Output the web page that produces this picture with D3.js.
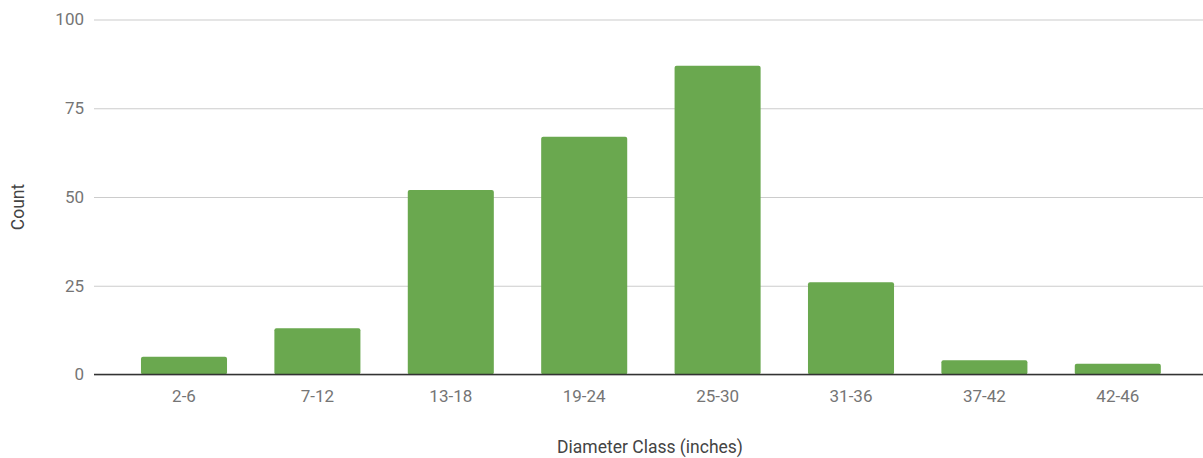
<!DOCTYPE html>
<html>
<head>
<meta charset="utf-8">
<script src="https://cdn.jsdelivr.net/npm/d3@7"></script>
<style>
  html, body { margin: 0; padding: 0; background: #fff; }
  svg { display: block; }
  text { font-family: Roboto, "Noto Sans", sans-serif; }
</style>
</head>
<body>
<svg id="chart" width="1203" height="458"></svg>
<script>
const categories = ["2-6", "7-12", "13-18", "19-24", "25-30", "31-36", "37-42", "42-46"];
const counts = [5, 13, 52, 67, 87, 26, 4, 3];
const yTicks = [0, 25, 50, 75, 100];
const xTitle = "Diameter Class (inches)";
const yTitle = "Count";

const svg = d3.select("#chart");
const plotLeft = 94, plotRight = 1203;
const yTop = 19.5, yBottom = 374.5;

const x = d3.scaleBand()
  .domain(categories)
  .range([117.3, 1184.5])
  .paddingInner(0.355)
  .paddingOuter(0.1775);

const y = d3.scaleLinear().domain([0, 100]).range([yBottom, yTop]);

// gridlines + y tick labels
const yAxis = d3.axisLeft(y).tickValues(yTicks).tickSize(-(plotRight - plotLeft)).tickPadding(10);
const gy = svg.append("g").attr("transform", `translate(${plotLeft},0)`).call(yAxis);
gy.select(".domain").remove();
gy.selectAll(".tick line").attr("stroke", "#cccccc").attr("stroke-width", 1.2);
gy.selectAll(".tick text")
  .attr("fill", "#757575")
  .style("font-size", "17px")
  .attr("x", -10);

// bars
svg.append("g").selectAll("rect")
  .data(categories)
  .join("rect")
  .attr("x", d => x(d))
  .attr("width", x.bandwidth())
  .attr("y", (d, i) => y(counts[i]))
  .attr("height", (d, i) => y(0) - y(counts[i]))
  .attr("rx", 2).attr("ry", 2)
  .attr("fill", "#6aa84f");

// x tick labels
const xAxis = d3.axisBottom(x).tickSize(0).tickPadding(15);
const gx = svg.append("g").attr("transform", `translate(0,${yBottom})`).call(xAxis);
gx.select(".domain").remove();
gx.selectAll(".tick text").attr("fill", "#757575").style("font-size", "17px");

// baseline
svg.append("line")
  .attr("x1", plotLeft).attr("x2", plotRight)
  .attr("y1", y(0)).attr("y2", y(0))
  .attr("stroke", "#333333").attr("stroke-width", 1.5);

// axis titles
svg.append("text")
  .attr("x", 650).attr("y", 453)
  .attr("text-anchor", "middle")
  .attr("fill", "#444444")
  .style("font-size", "17.5px")
  .text(xTitle);

svg.append("text")
  .attr("transform", "translate(24,207) rotate(-90)")
  .attr("text-anchor", "middle")
  .attr("fill", "#444444")
  .style("font-size", "17.5px")
  .text(yTitle);
</script>
</body>
</html>
